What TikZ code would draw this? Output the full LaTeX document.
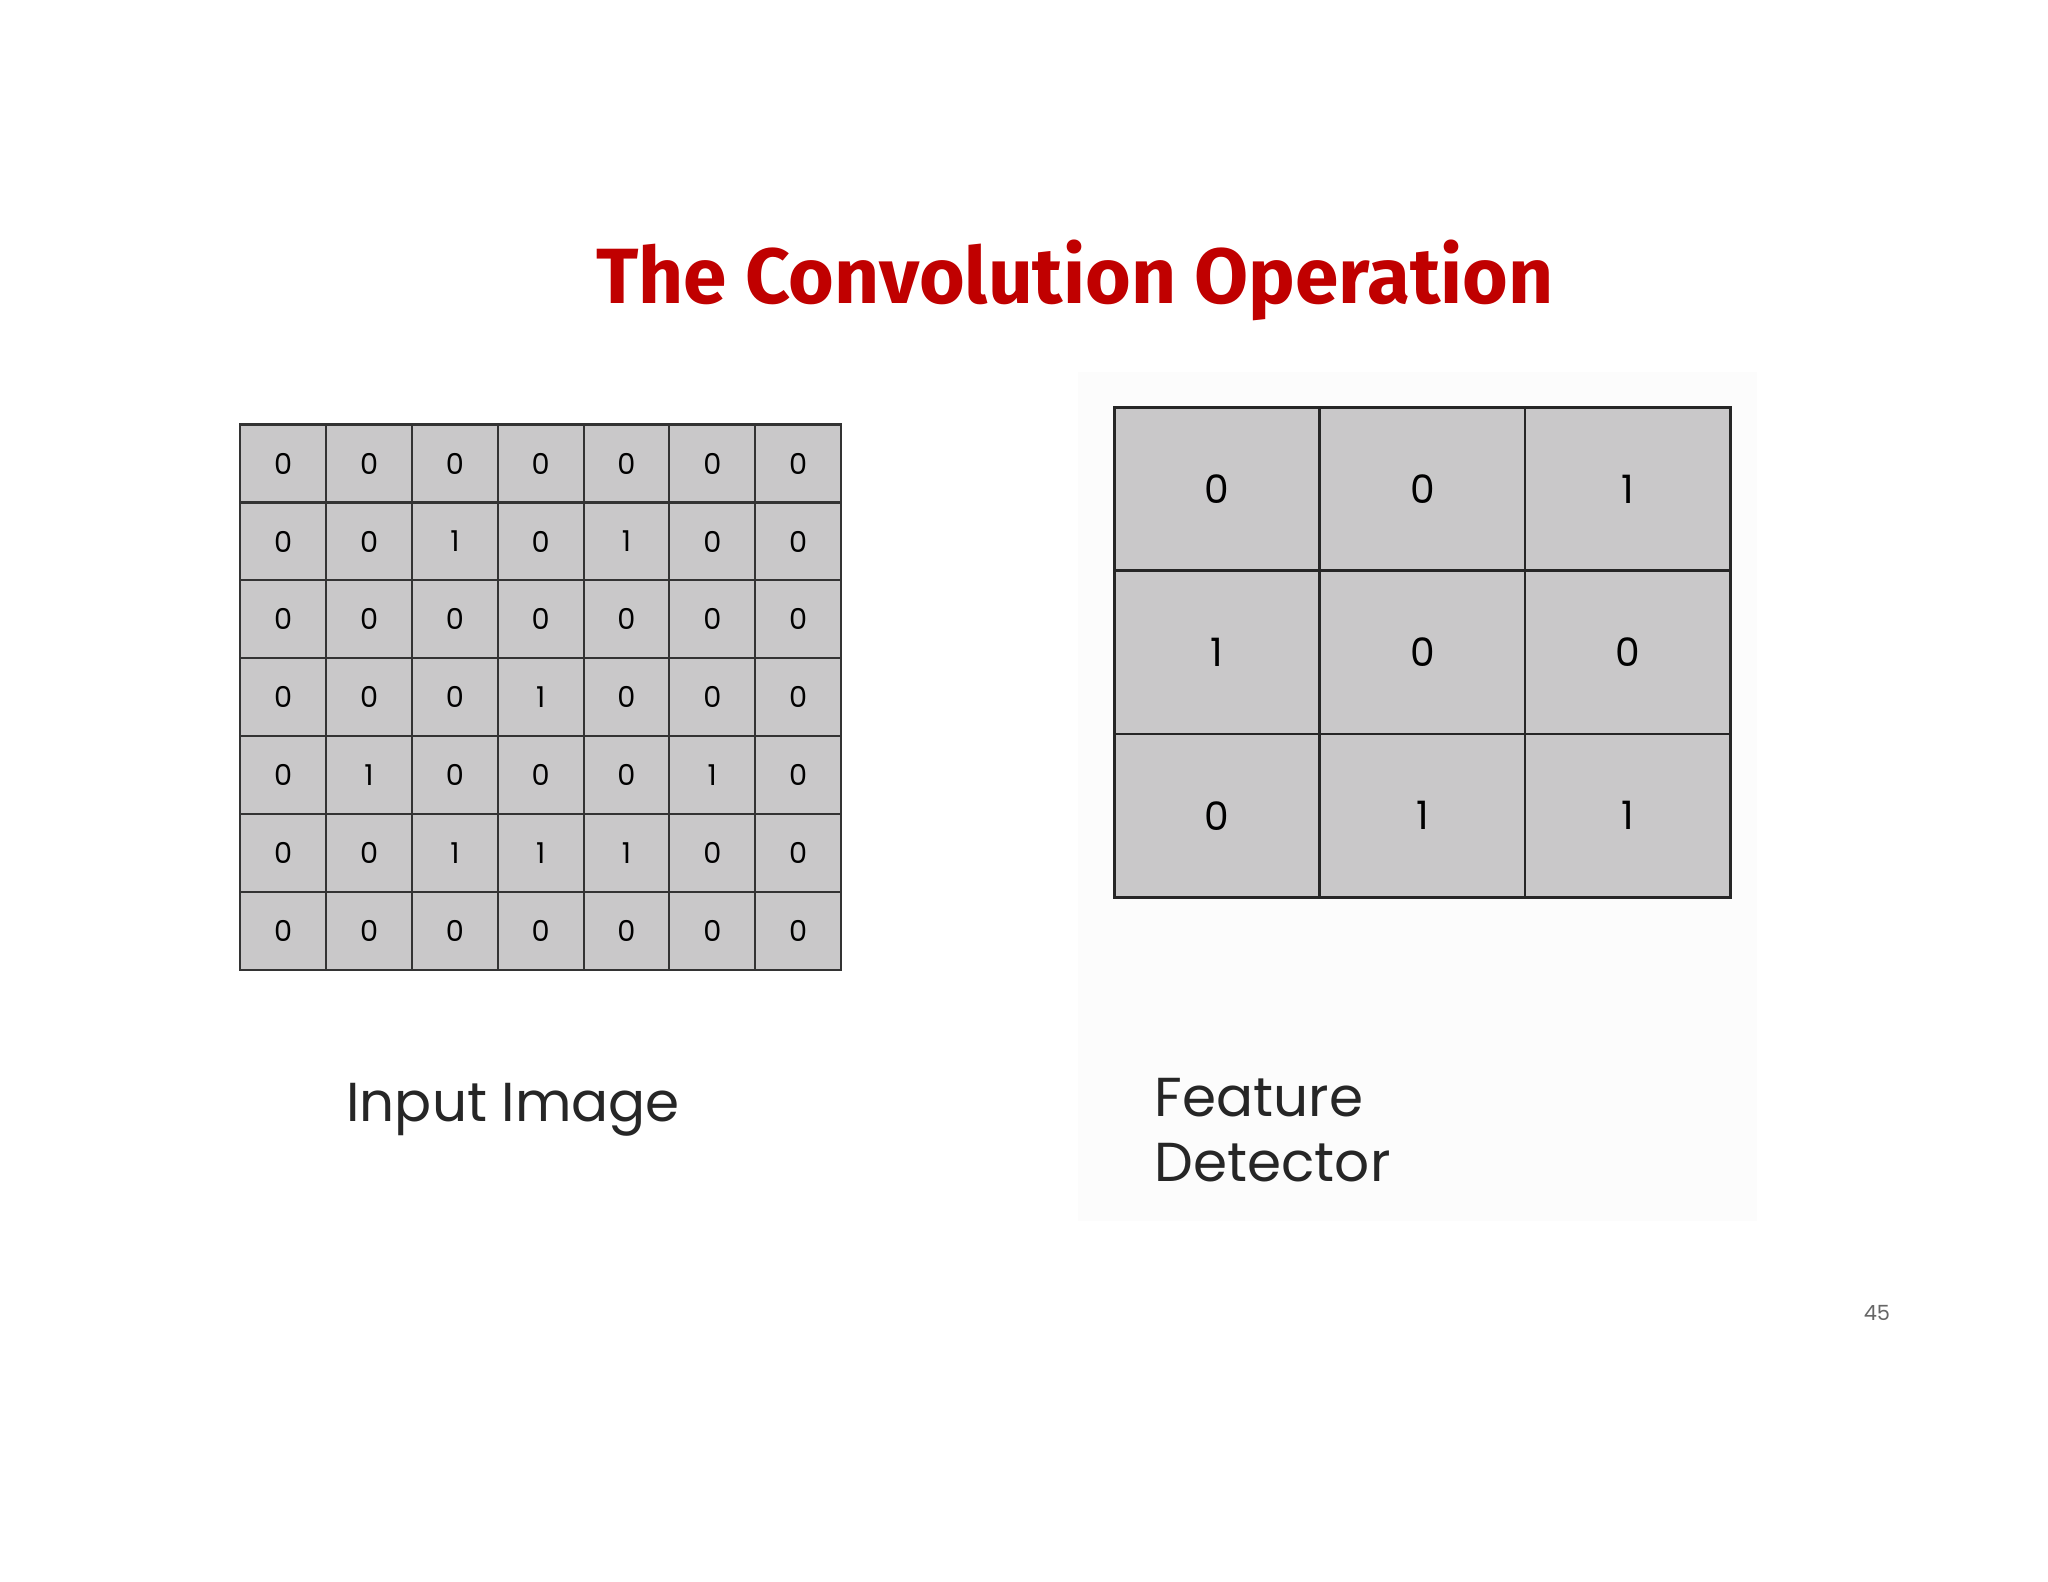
\documentclass[tikz,border=0pt]{standalone}
\usepackage{fontspec}
\setmainfont{Poppins}
\newfontfamily\titlefont{Fira Sans}
\definecolor{cellgray}{HTML}{C9C8C9}
\definecolor{titlered}{HTML}{C00000}
\begin{document}
\begin{tikzpicture}[x=1pt,y=-1pt,
  smallcell/.style={draw=black!80,line width=1.6pt,fill=cellgray,minimum width=65.7pt,minimum height=59.7pt,inner sep=0pt,font=\fontsize{22}{24}\selectfont},
  bigcell/.style={draw=black!85,line width=2.2pt,fill=cellgray,minimum width=157.3pt,minimum height=125pt,inner sep=0pt,font=\fontsize{30}{32}\selectfont},
  lbl/.style={font=\fontsize{42}{50}\selectfont,text=black!85,inner sep=0pt}]
\useasboundingbox (0,0) rectangle (1568,1211);
\fill[white] (0,0) rectangle (1568,1211);
\fill[black!1] (825,285) rectangle (1345,935);
\node[font=\titlefont\bfseries\fontsize{60}{66}\selectfont,text=titlered] (title) at (823,215) {The Convolution Operation};
\foreach \row [count=\r from 0] in {{0,0,0,0,0,0,0},{0,0,1,0,1,0,0},{0,0,0,0,0,0,0},{0,0,0,1,0,0,0},{0,1,0,0,0,1,0},{0,0,1,1,1,0,0},{0,0,0,0,0,0,0}}{
  \foreach \v [count=\c from 0] in \row {
    \node[smallcell] (in-\r-\c) at ({184+65.7*(\c+0.5)},{325+59.7*(\r+0.5)}) {\v};
  }
}
\foreach \row [count=\r from 0] in {{0,0,1},{1,0,0},{0,1,1}}{
  \foreach \v [count=\c from 0] in \row {
    \node[bigcell] (fd-\r-\c) at ({853+157.3*(\c+0.5)},{312+125*(\r+0.5)}) {\v};
  }
}
\node[lbl,anchor=west] (inlbl) at (265,850) {Input Image};
\node[lbl,anchor=north west,align=left] (fdlbl) at (884,825) {Feature\\Detector};
\node[font=\fontsize{16}{18}\selectfont,text=black!60] (pg) at (1437,1005) {45};
\end{tikzpicture}
\end{document}
